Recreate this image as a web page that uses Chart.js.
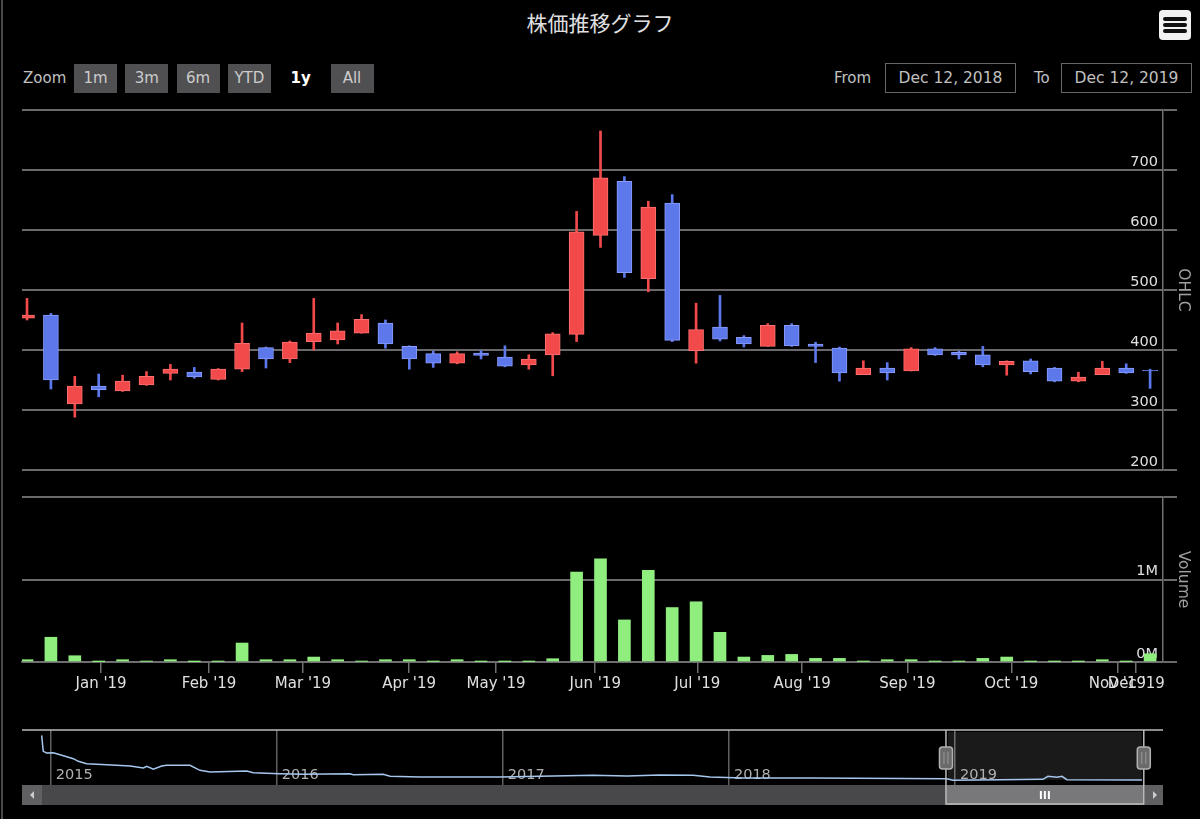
<!DOCTYPE html>
<html><head><meta charset="utf-8">
<script src="https://cdn.jsdelivr.net/npm/chart.js@4.4.1/dist/chart.umd.min.js"></script>
<style>
html,body{margin:0;padding:0;background:#000;}
body{width:1200px;height:819px;position:relative;overflow:hidden;font-family:"DejaVu Sans",Verdana,sans-serif;}
#edge{position:absolute;left:1px;top:0;width:2px;height:819px;background:#4a4a4a;}
#title{position:absolute;left:0;top:8px;width:1200px;text-align:center;color:#E0E0E3;font-family:"Noto Sans CJK JP",sans-serif;font-size:21px;line-height:28px;}
#menu{position:absolute;left:1159px;top:10px;width:32px;height:30px;background:#f2f2f2;border-radius:4px;}
#menu div{position:absolute;left:4px;width:24px;height:4px;background:#111;border-radius:2px;}
.btn{position:absolute;top:64px;width:43px;height:29px;background:#505053;color:#CCC;font-size:15px;line-height:29px;text-align:center;}
.btn.sel{background:transparent;color:#fff;font-weight:bold;}
.lbl{position:absolute;top:64px;height:29px;line-height:29px;color:silver;font-size:15px;}
.inp{position:absolute;top:63px;height:30px;box-sizing:border-box;border:1px solid #666;color:silver;font-size:15.5px;line-height:28px;text-align:center;}
canvas{position:absolute;left:0;}
</style></head>
<body>
<div id="edge"></div>
<div id="title">株価推移グラフ</div>
<div id="menu"><div style="top:7px"></div><div style="top:13px"></div><div style="top:19px"></div></div>
<div class="lbl" style="left:23px">Zoom</div>
<div id="btns"></div>
<div class="lbl" style="left:834px">From</div>
<div class="inp" style="left:885px;width:131px">Dec 12, 2018</div>
<div class="lbl" style="left:1034px">To</div>
<div class="inp" style="left:1061px;width:131px">Dec 12, 2019</div>
<canvas id="price" width="1200" height="380" style="top:100px"></canvas>
<canvas id="vol" width="1200" height="230" style="top:480px"></canvas>
<canvas id="nav" width="1200" height="99" style="top:720px"></canvas>
<script>
// ---- data (weekly candles, ordinal index 0..47) ----
const opens  = [453,458,310,340,332,342,361,363,351,368,404,385,414,417,428,445,406,394,378,395,388,375,392,426,591,681,519,645,399,438,421,406,441,410,403,359,370,365,402,396,392,375,382,370,348,359,370,366];
const highs  = [486,461,356,360,358,364,376,371,369,445,405,415,486,445,459,450,407,398,397,399,407,392,429,631,765,689,648,659,478,491,424,444,444,413,405,382,379,404,404,398,406,382,385,371,363,381,377,368];
const lows   = [450,335,288,322,331,341,350,353,350,364,370,379,400,410,428,403,368,371,377,385,372,368,357,414,571,521,497,414,378,415,405,406,406,379,348,359,350,365,391,385,372,358,360,347,347,359,361,336];
const closes = [458,350,340,334,348,356,368,355,368,411,385,413,428,432,451,410,385,378,394,391,373,385,427,597,687,529,638,416,434,418,410,441,407,406,362,370,362,402,392,392,375,381,364,348,355,370,362,365];
const volumes = [28000,300000,76000,4000,28000,8000,28000,4000,6000,230000,28000,28000,60000,28000,8000,28000,28000,6000,28000,5000,5000,5000,40000,1090000,1250000,510000,1110000,660000,730000,360000,60000,80000,92000,44000,44000,6000,28000,28000,6000,6000,44000,60000,5000,5000,5000,28000,5000,100000];
const monthLabels = ["Jan '19","Feb '19","Mar '19","Apr '19","May '19","Jun '19","Jul '19","Aug '19","Sep '19","Oct '19","Nov '19","Dec '19"];
const monthPos = [3.10,7.62,11.55,15.99,19.63,23.78,28.05,32.44,36.84,41.19,45.63,46.42];
const priceTicks = [200,300,400,500,600,700,800];
const volumeTicks = [0,1000000,2000000];
const rangeButtons = ['1m','3m','6m','YTD','1y','All'];
const selectedButton = '1y';
// navigator (full history, decimal years)
const navYears = [2014.960,2014.967,2014.982,2015.011,2015.034,2015.071,2015.100,2015.122,2015.159,2015.248,2015.351,2015.410,2015.425,2015.454,2015.491,2015.513,2015.616,2015.660,2015.705,2015.867,2015.896,2016.014,2016.117,2016.324,2016.338,2016.471,2016.501,2016.633,2016.987,2017.398,2017.549,2017.695,2017.841,2017.916,2018.062,2018.358,2018.964,2018.991,2019.199,2019.389,2019.411,2019.451,2019.473,2019.495,2019.827];
const navValues = [3881,2619,2485,2508,2382,2193,2035,1830,1641,1562,1459,1301,1435,1199,1459,1514,1514,1120,986,1065,930,852,804,852,773,804,646,591,591,725,670,749,725,591,512,512,457,331,378,410,646,568,646,378,355];
const navYearTicks = [2015,2016,2017,2018,2019];
const navRange = [2018.960, 2019.835];

// ---- styles ----
const FONT = '"DejaVu Sans", Verdana, sans-serif';
Chart.defaults.font.family = FONT;
const UP = '#f24a4a', DOWN = '#5c78ea', UP_EDGE = '#ff7070', DOWN_EDGE = '#8a9cff';
const GRID = '#6a6a6d', AXIS = '#707073', LABEL = '#E0E0E3', ATITLE = '#A0A0A3';
const X_MIN = -0.21, X_MAX = 47.54;

// range selector buttons
const bwrap = document.getElementById('btns');
rangeButtons.forEach((t, i) => {
  const d = document.createElement('div');
  d.className = 'btn' + (t === selectedButton ? ' sel' : '');
  d.style.left = (74 + i * 51.3) + 'px';
  d.textContent = t;
  bwrap.appendChild(d);
});

const isUp = opens.map((o, i) => closes[i] >= o);
const fillCol = isUp.map(u => u ? UP : DOWN);
const edgeCol = isUp.map(u => u ? UP_EDGE : DOWN_EDGE);

const common = {
  responsive: false, animation: false, devicePixelRatio: 1, events: [],
  plugins: { legend: { display: false }, tooltip: { enabled: false } }
};

function rightAxis(min, max, ticks, fmt, title) {
  return {
    position: 'right', min, max,
    afterBuildTicks: s => { s.ticks = ticks.map(v => ({ value: v })); },
    afterFit: s => { s.width = 37; },
    ticks: { mirror: true, padding: -5, labelOffset: -8, color: LABEL, font: { size: 14.5 }, callback: fmt },
    grid: { color: GRID, lineWidth: 2, drawTicks: true, tickLength: 14 },
    border: { display: true, color: AXIS, width: 1.5 },
    title: { display: true, text: title, color: ATITLE, font: { size: 15.5 }, padding: { top: 8, bottom: 0 } }
  };
}

// ---- price (candlestick) pane ----
new Chart(document.getElementById('price'), {
  type: 'bar',
  data: {
    datasets: [
      { data: opens.map((o, i) => ({ x: i, y: [o, closes[i]] })), backgroundColor: fillCol, borderColor: edgeCol,
        borderWidth: 1, borderSkipped: false, barThickness: 15, grouped: false, order: 1 },
      { data: lows.map((l, i) => ({ x: i, y: [l, highs[i]] })), backgroundColor: fillCol,
        borderWidth: 0, barThickness: 2, grouped: false, order: 2 }
    ]
  },
  options: Object.assign({}, common, {
    layout: { padding: { left: 22, right: 0, top: 10, bottom: 10 }, autoPadding: false },
    scales: {
      x: { type: 'linear', min: X_MIN, max: X_MAX, display: false, offset: false, grid: { offset: false } },
      y: rightAxis(200, 800, priceTicks, v => v === 800 ? '' : String(v), 'OHLC')
    }
  })
});

// ---- volume pane ----
new Chart(document.getElementById('vol'), {
  type: 'bar',
  data: {
    datasets: [{ data: volumes.map((v, i) => ({ x: i, y: v })), backgroundColor: '#90ee7e', barThickness: 12, grouped: false }]
  },
  options: Object.assign({}, common, {
    layout: { padding: { left: 22, right: 0, top: 17, bottom: 0 }, autoPadding: false },
    scales: {
      x: {
        type: 'linear', min: X_MIN, max: X_MAX, offset: false, position: 'bottom',
        afterBuildTicks: s => { s.ticks = monthPos.map(v => ({ value: v })); },
        afterFit: s => { s.height = 48; },
        ticks: { autoSkip: false, maxRotation: 0, minRotation: 0, padding: 2, color: LABEL, font: { size: 15 },
                 callback: (v, i) => monthLabels[i] },
        grid: { offset: false, drawOnChartArea: false, drawTicks: true, tickLength: 11, color: AXIS, lineWidth: 1.5 },
        border: { display: true, color: AXIS, width: 1.5 }
      },
      y: rightAxis(0, 2000000, volumeTicks, v => v === 2000000 ? '' : (v / 1000000) + 'M', 'Volume')
    }
  })
});

// ---- navigator ----
const navDecor = {
  id: 'navDecor',
  beforeDatasetsDraw(chart) {
    const { ctx, chartArea: a, scales: { x } } = chart;
    const x0 = x.getPixelForValue(navRange[0]), x1 = x.getPixelForValue(navRange[1]);
    ctx.save();
    ctx.fillStyle = 'rgba(255,255,255,0.1)';
    ctx.fillRect(x0 + 2, a.top + 2, x1 - x0 - 4, a.bottom - a.top - 7);
    // year labels inside the navigator, right of each year line
    ctx.fillStyle = '#b0b0b0';
    ctx.font = '14.5px ' + FONT;
    ctx.textAlign = 'left';
    ctx.textBaseline = 'middle';
    navYearTicks.forEach(yv => ctx.fillText(String(yv), x.getPixelForValue(yv) + 5, a.bottom - 10));
    ctx.restore();
  },
  afterDraw(chart) {
    const { ctx, chartArea: a, scales: { x } } = chart;
    const x0 = x.getPixelForValue(navRange[0]), x1 = x.getPixelForValue(navRange[1]);
    const sTop = a.bottom, sH = 20, sBot = sTop + sH;
    ctx.save();
    // scrollbar track
    ctx.fillStyle = '#48484b';
    ctx.fillRect(a.left, sTop, a.right - a.left, sH);
    // buttons
    ctx.fillStyle = '#606063';
    ctx.fillRect(a.left, sTop, 20, sH);
    ctx.fillRect(a.right - 18, sTop, 18, sH);
    ctx.fillStyle = '#CCC';
    ctx.beginPath(); ctx.moveTo(a.left + 8, sTop + 10); ctx.lineTo(a.left + 12, sTop + 6); ctx.lineTo(a.left + 12, sTop + 14); ctx.fill();
    ctx.beginPath(); ctx.moveTo(a.right - 6, sTop + 10); ctx.lineTo(a.right - 10, sTop + 6); ctx.lineTo(a.right - 10, sTop + 14); ctx.fill();
    // thumb
    ctx.fillStyle = '#78787b';
    ctx.fillRect(x0, sTop, x1 - x0, sH);
    ctx.strokeStyle = '#fff'; ctx.lineWidth = 2;
    const cx = (x0 + x1) / 2;
    [-4, 0, 4].forEach(d => { ctx.beginPath(); ctx.moveTo(cx + d, sTop + 6); ctx.lineTo(cx + d, sTop + 14); ctx.stroke(); });
    // outline
    ctx.strokeStyle = '#bbb'; ctx.lineWidth = 1.5;
    ctx.beginPath();
    ctx.moveTo(a.left, a.top); ctx.lineTo(a.right, a.top);
    ctx.moveTo(x0, a.top); ctx.lineTo(x0, sBot - 1); ctx.lineTo(x1, sBot - 1); ctx.lineTo(x1, a.top);
    ctx.stroke();
    // handles
    const hy = a.top + 17, hh = 22, hw = 13;
    [x0, x1].forEach(hx => {
      ctx.fillStyle = '#6a6a6a'; ctx.strokeStyle = '#b0b0b0'; ctx.lineWidth = 1.5;
      ctx.beginPath(); ctx.roundRect(hx - hw / 2, hy, hw, hh, 3); ctx.fill(); ctx.stroke();
      ctx.strokeStyle = '#9a9a9a'; ctx.lineWidth = 1;
      ctx.beginPath(); ctx.moveTo(hx - 2, hy + 5); ctx.lineTo(hx - 2, hy + hh - 5); ctx.moveTo(hx + 2, hy + 5); ctx.lineTo(hx + 2, hy + hh - 5); ctx.stroke();
    });
    ctx.restore();
  }
};

new Chart(document.getElementById('nav'), {
  type: 'line',
  data: {
    datasets: [{ data: navYears.map((t, i) => ({ x: t, y: navValues[i] })), borderColor: '#A6C7ED', borderWidth: 1.5,
                 pointRadius: 0, tension: 0, fill: false }]
  },
  options: Object.assign({}, common, {
    layout: { padding: { left: 22, right: 37, top: 10, bottom: 0 }, autoPadding: false },
    scales: {
      x: {
        type: 'linear', min: 2014.873, max: 2019.92, offset: false,
        afterBuildTicks: s => { s.ticks = navYearTicks.map(v => ({ value: v })); },
        afterFit: s => { s.height = 34; },
        ticks: { display: false },
        grid: { color: '#606063', lineWidth: 1.5, drawTicks: false },
        border: { display: false }
      },
      y: { display: false, min: -40, max: 4300 }
    }
  }),
  plugins: [navDecor]
});
</script>
</body></html>
